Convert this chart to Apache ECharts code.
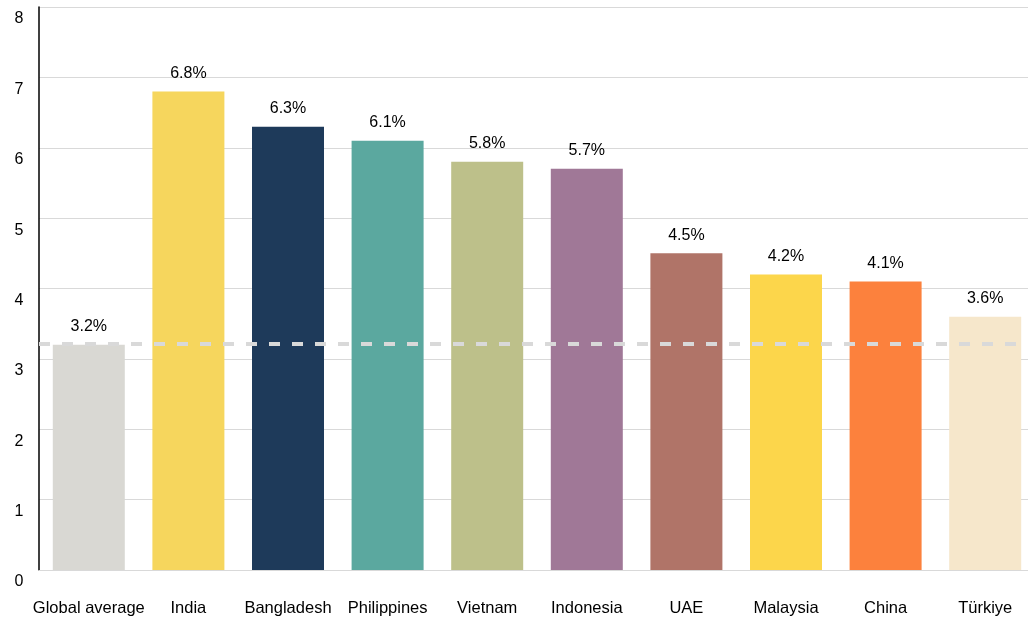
<!DOCTYPE html>
<html><head><meta charset="utf-8">
<script src="https://cdn.jsdelivr.net/npm/echarts@6/dist/echarts.min.js"></script>
<style>html,body{margin:0;padding:0;background:#fff}#c{width:1028px;height:620px}</style>
</head><body><div id="c"></div>
<script>
const categories = ["Global average","India","Bangladesh","Philippines","Vietnam","Indonesia","UAE","Malaysia","China","Türkiye"];
const values = [3.2,6.8,6.3,6.1,5.8,5.7,4.5,4.2,4.1,3.6];
const colors = ["#D9D8D3","#F6D65D","#1E3A5A","#5BA89F","#BDC08A","#A07897","#B07468","#FCD64B","#FC813D","#F6E7CB"];
const globalAverage = 3.2;
const yTicks = [0,1,2,3,4,5,6,7,8];

const font = "'Liberation Sans', Arial, sans-serif";
const chart = echarts.init(document.getElementById('c'));
chart.setOption({
  animation: false,
  grid: {left: 39, width: 996, top: 7, bottom: 50, outerBoundsMode: 'none', containLabel: false},
  xAxis: {
    type: 'category', data: categories,
    axisLine: {show: true, lineStyle: {color: '#D9D9D9', width: 1}},
    axisTick: {show: false},
    axisLabel: {color: '#000', fontFamily: font, fontSize: 16.5, margin: 30, interval: 0}
  },
  yAxis: {
    type: 'value', min: yTicks[0], max: yTicks[yTicks.length-1], interval: 1,
    axisLine: {show: true, lineStyle: {color: '#000', width: 1.5}},
    axisTick: {show: false},
    splitLine: {lineStyle: {color: '#D9D9D9', width: 1}},
    axisLabel: {color: '#000', fontFamily: font, fontSize: 16, align: 'center', margin: 20, verticalAlign: 'top', padding: [4,0,0,0]}
  },
  series: [{
    type: 'bar', barWidth: 72,
    data: values.map((v,i)=>({value: v, itemStyle: {color: colors[i]}})),
    label: {show: true, position: 'top', distance: 10, color: '#000', fontFamily: font, fontSize: 16,
      formatter: p => p.value.toFixed(1) + '%'},
    markLine: {
      silent: true, symbol: 'none', z: 10,
      label: {show: false},
      lineStyle: {color: '#D9D9D9', type: [11, 12], width: 4},
      data: [{yAxis: globalAverage + 0.02}]
    }
  }]
});
</script></body></html>
